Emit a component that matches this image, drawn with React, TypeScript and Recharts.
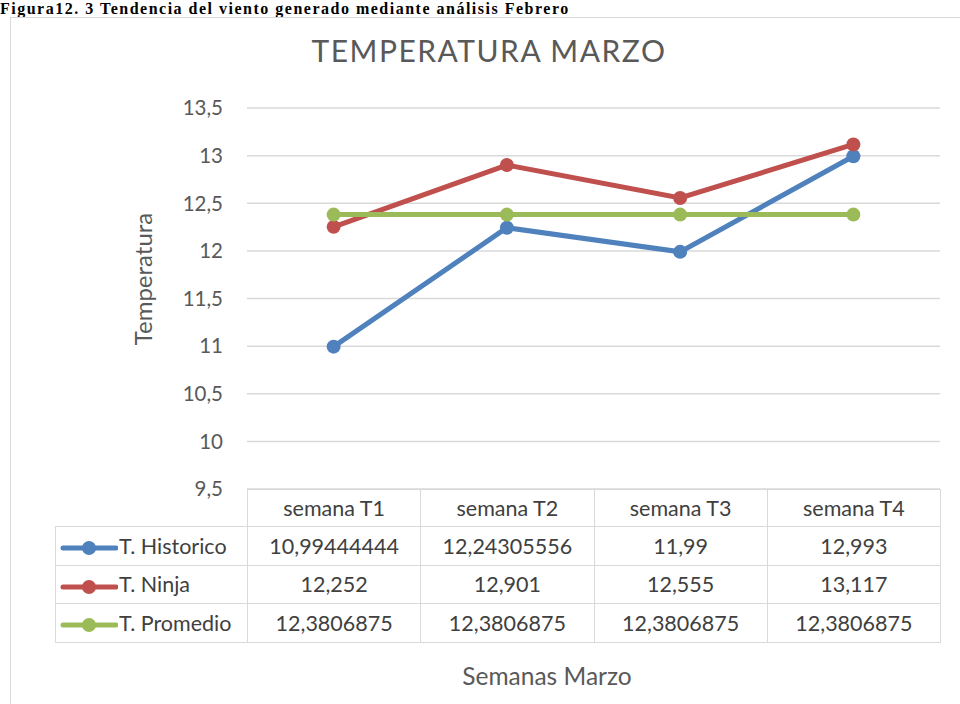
import { CartesianGrid, Line, LineChart, XAxis, YAxis } from "recharts";

const weeks = ["semana T1", "semana T2", "semana T3", "semana T4"];
const historico = [10.99444444, 12.24305556, 11.99, 12.993];
const ninja = [12.252, 12.901, 12.555, 13.117];
const promedio = [12.3806875, 12.3806875, 12.3806875, 12.3806875];
const yTicks = [9.5, 10, 10.5, 11, 11.5, 12, 12.5, 13, 13.5];

const series = [
  { key: "historico", name: "T. Historico", color: "#4F81BD", values: historico },
  { key: "ninja", name: "T. Ninja", color: "#C0504D", values: ninja },
  { key: "promedio", name: "T. Promedio", color: "#9BBB59", values: promedio },
];

const data = weeks.map((w, i) => ({
  semana: w,
  historico: historico[i],
  ninja: ninja[i],
  promedio: promedio[i],
}));

const FONT = "Lato, 'Open Sans', sans-serif";
const TEXT = "#595959";
const GRID = "#d9d9d9";

const fmt = (v: number) => String(v).replace(".", ",");

// layout of the plot / data table
const PLOT_L = 247;
const PLOT_R = 940;
const PLOT_T = 108;
const PLOT_B = 489;
const COL_W = (PLOT_R - PLOT_L) / weeks.length;

function LegendKey({ color }: { color: string }) {
  return (
    <svg width={58} height={16} style={{ verticalAlign: "middle", marginRight: 1 }}>
      <line x1={3} y1={8} x2={56} y2={8} stroke={color} strokeWidth={5} strokeLinecap="round" />
      <circle cx={29} cy={8} r={7} fill={color} />
    </svg>
  );
}

const cell: React.CSSProperties = {
  border: `1.5px solid ${GRID}`,
  padding: 0,
  textAlign: "center",
  color: "#404040",
};

export default function App() {
  return (
    <div
      style={{
        position: "absolute",
        left: 0,
        top: 0,
        width: 960,
        height: 704,
        overflow: "hidden",
        background: "#fff",
        fontFamily: FONT,
      }}
    >
      <div
        style={{
          position: "absolute",
          left: 0,
          top: 0,
          fontFamily: "'Liberation Serif', 'DejaVu Serif', serif",
          fontWeight: "bold",
          fontSize: 16,
          lineHeight: "17px",
          letterSpacing: 1.5,
          whiteSpace: "nowrap",
          color: "#000",
        }}
      >
        Figura12. 3 Tendencia del viento generado mediante análisis Febrero
      </div>
      <div
        style={{
          position: "absolute",
          left: 10,
          top: 17,
          width: 1000,
          height: 800,
          border: `1.5px solid ${GRID}`,
        }}
      />
      <div
        style={{
          position: "absolute",
          left: 0,
          top: 32,
          width: 978,
          textAlign: "center",
          fontSize: 30,
          color: TEXT,
          letterSpacing: 1.5,
        }}
      >
        TEMPERATURA MARZO
      </div>
      <div
        style={{
          position: "absolute",
          left: 142,
          top: 279,
          transform: "translate(-50%, -50%) rotate(-90deg)",
          fontSize: 24,
          color: TEXT,
          whiteSpace: "nowrap",
        }}
      >
        Temperatura
      </div>
      <div
        style={{
          position: "absolute",
          left: 547,
          top: 675,
          transform: "translate(-50%, -50%)",
          fontSize: 24.5,
          color: TEXT,
          whiteSpace: "nowrap",
        }}
      >
        Semanas Marzo
      </div>

      <LineChart
        width={960}
        height={704}
        data={data}
        margin={{ top: PLOT_T, right: 960 - PLOT_R, bottom: 704 - PLOT_B, left: 0 }}
        style={{ position: "absolute", left: 0, top: 0 }}
      >
        <CartesianGrid vertical={false} stroke={GRID} strokeWidth={1.5} />
        <XAxis dataKey="semana" hide padding={{ left: COL_W / 2, right: COL_W / 2 }} />
        <YAxis
          width={PLOT_L}
          domain={[9.5, 13.5]}
          ticks={yTicks}
          interval={0}
          axisLine={false}
          tickLine={false}
          tickSize={0}
          tickMargin={24}
          tick={{ fontSize: 20.5, fill: TEXT, fontFamily: FONT }}
          tickFormatter={fmt}
        />
        {series.map((s) => (
          <Line
            key={s.key}
            type="linear"
            dataKey={s.key}
            stroke={s.color}
            strokeWidth={5}
            dot={{ r: 7, fill: s.color, stroke: "none" }}
            activeDot={false}
            isAnimationActive={false}
          />
        ))}
      </LineChart>

      <table
        style={{
          position: "absolute",
          left: 55,
          top: PLOT_B,
          borderCollapse: "collapse",
          tableLayout: "fixed",
          fontSize: 21.5,
          fontFamily: FONT,
        }}
      >
        <colgroup>
          <col style={{ width: PLOT_L - 55 }} />
          {weeks.map((w) => (
            <col key={w} style={{ width: COL_W }} />
          ))}
        </colgroup>
        <tbody>
          <tr style={{ height: 37 }}>
            <td style={{ padding: 0 }} />
            {weeks.map((w) => (
              <td key={w} style={cell}>
                {w}
              </td>
            ))}
          </tr>
          {series.map((s) => (
            <tr key={s.key} style={{ height: 38.5 }}>
              <td style={{ ...cell, textAlign: "left", paddingLeft: 4, whiteSpace: "nowrap" }}>
                <LegendKey color={s.color} />
                {s.name}
              </td>
              {s.values.map((v, i) => (
                <td key={i} style={cell}>
                  {fmt(v)}
                </td>
              ))}
            </tr>
          ))}
        </tbody>
      </table>
    </div>
  );
}
